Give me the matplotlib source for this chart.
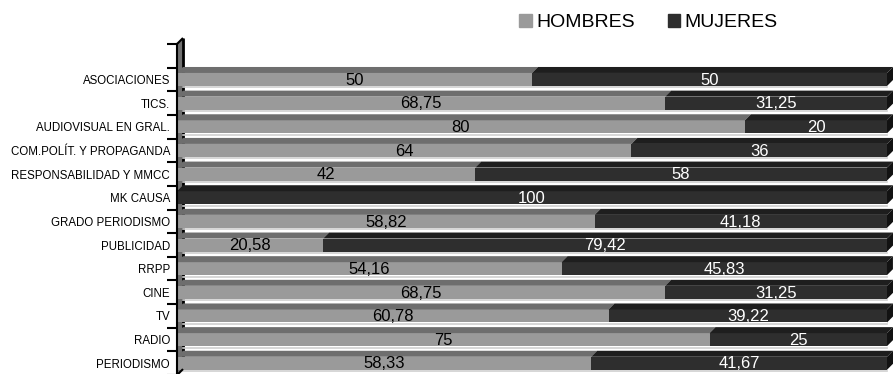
import matplotlib
matplotlib.use("Agg")
import matplotlib.pyplot as plt
from matplotlib.patches import Polygon, Patch

plt.rcParams['font.family'] = ['Liberation Sans', 'DejaVu Sans']

categorias = ["ASOCIACIONES", "TICS.", "AUDIOVISUAL EN GRAL.", "COM.POLÍT. Y PROPAGANDA",
              "RESPONSABILIDAD Y MMCC", "MK CAUSA", "GRADO PERIODISMO", "PUBLICIDAD",
              "RRPP", "CINE", "TV", "RADIO", "PERIODISMO"]
hombres = [50, 68.75, 80, 64, 42, 0, 58.82, 20.58, 54.16, 68.75, 60.78, 75, 58.33]
mujeres = [50, 31.25, 20, 36, 58, 100, 41.18, 79.42, 45.83, 31.25, 39.22, 25, 41.67]

# colours: front face, top face, side face
C_H_FRONT, C_H_TOP = "#9a9a9a", "#6e6e6e"
C_M_FRONT, C_M_TOP, C_M_SIDE = "#2e2e2e", "#1e1e1e", "#121212"
C_WALL = "#707070"

W, H = 893, 374
fig = plt.figure(figsize=(W / 100, H / 100), dpi=100)

# geometry in pixels
x0_px, x100_px = 177, 887
band_px = 23.65
top_px = 44
n = len(categorias)
ax_h_px = (n + 1) * band_px
ax = fig.add_axes([x0_px / W, (H - top_px - ax_h_px) / H, (W - x0_px) / W, ax_h_px / H])
px_per_unit = (x100_px - x0_px) / 100.0
ax.set_xlim(0, (W - x0_px) / px_per_unit)
ax.set_ylim(n - 0.5, -1.5)

dx = 6 / px_per_unit          # depth offset, x data units
dy = 6 / band_px              # depth offset, y data units
bh = 13 / band_px             # front face height

ys = list(range(n))

# side wall with its back edge, top edge and floor edge
wall = Polygon([(0, n - 0.5), (0, -1.5), (dx, -1.5 - dy), (dx, n - 0.5 - dy)],
               closed=True, facecolor=C_WALL, edgecolor="none", zorder=1, clip_on=False)
ax.add_patch(wall)
ax.plot([dx, dx], [-1.5 - dy, n - 0.5 - dy], color="black", lw=2, zorder=2,
        clip_on=False, solid_capstyle="butt")
ax.plot([0, dx], [-1.5, -1.5 - dy], color="black", lw=1.5, zorder=6, clip_on=False,
        solid_capstyle="butt")
ax.plot([0, dx], [n - 0.5, n - 0.5 - dy], color="black", lw=1.5, zorder=6, clip_on=False,
        solid_capstyle="butt")

# floor shading line under each bar
for y in ys:
    ax.plot([dx, 100], [y + bh / 2 + 1.5 / band_px] * 2, color="#cfcfcf", lw=1.2, zorder=2)

# front faces
ax.barh(ys, hombres, height=bh, color=C_H_FRONT, zorder=3, linewidth=0)
ax.barh(ys, mujeres, left=hombres, height=bh, color=C_M_FRONT, zorder=3, linewidth=0)

# top and side faces
for y, h, m in zip(ys, hombres, mujeres):
    yt = y - bh / 2
    for a, b, col in [(0, h, C_H_TOP), (h, h + m, C_M_TOP)]:
        if b - a <= 0:
            continue
        ax.add_patch(Polygon([(a, yt), (a + dx, yt - dy), (b + dx, yt - dy), (b, yt)],
                             closed=True, facecolor=col, edgecolor="none", zorder=3))
    end = h + m
    ax.add_patch(Polygon([(end, yt), (end + dx, yt - dy), (end + dx, y + bh / 2 - dy),
                          (end, y + bh / 2)],
                         closed=True, facecolor=C_M_SIDE, edgecolor="none", zorder=3))

def fmt(v):
    if float(v).is_integer():
        return str(int(v))
    return ("%.2f" % v).replace(".", ",")

# value labels
for y, h, m in zip(ys, hombres, mujeres):
    if h > 0:
        ax.text(h / 2, y + 0.03, fmt(h), ha="center", va="center", fontsize=12,
                color="black", zorder=5)
    if m > 0:
        ax.text(h + m / 2, y + 0.03, fmt(m), ha="center", va="center", fontsize=12,
                color="white", zorder=5)

# axes styling
for s in ["top", "right", "bottom"]:
    ax.spines[s].set_visible(False)
ax.spines["left"].set_color("black")
ax.spines["left"].set_linewidth(1.5)
ax.spines["left"].set_zorder(6)
ax.set_xticks([])
ax.set_yticks(ys)
ax.set_yticklabels(categorias, fontsize=8.3)
ax.tick_params(axis="y", which="major", length=0, pad=5)
ax.set_yticks([k - 0.5 for k in range(-1, n + 1)], minor=True)
ax.tick_params(axis="y", which="minor", length=7, width=1.5, color="black")
ax.patch.set_alpha(0)

# legend
fig.legend(handles=[Patch(color=C_H_FRONT, label="HOMBRES"),
                    Patch(color=C_M_FRONT, label="MUJERES")],
           ncol=2, loc="upper left", bbox_to_anchor=(519 / W, 1 - 14 / H),
           frameon=False, fontsize=14, handlelength=0.65, handleheight=0.65,
           handletextpad=0.22, columnspacing=1.7, borderpad=0, borderaxespad=0)

fig.savefig("out.png", dpi=100)
